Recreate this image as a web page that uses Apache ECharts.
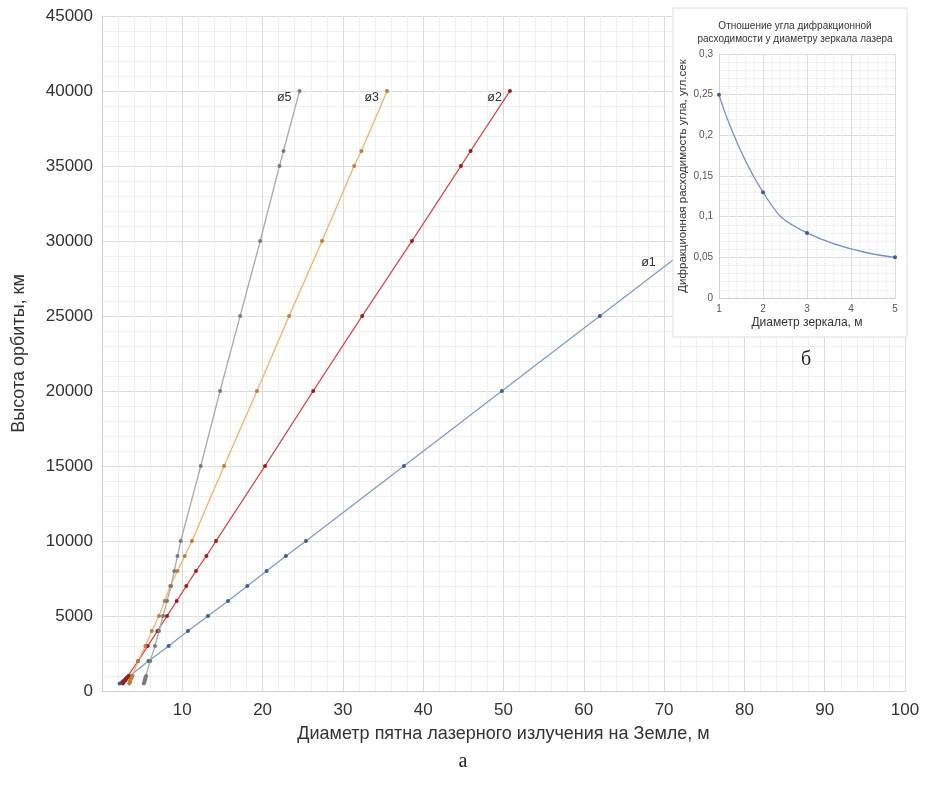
<!DOCTYPE html>
<html>
<head>
<meta charset="utf-8">
<script src="https://cdn.jsdelivr.net/npm/echarts@6/dist/echarts.min.js"></script>
<style>
  html, body { margin: 0; padding: 0; background: #fff; }
  #chart { width: 926px; height: 801px; }
</style>
</head>
<body>
<div id="chart"></div>
<script>
// высота орбиты, км
const heights = [500, 600, 700, 800, 900, 1000, 2000, 3000, 4000, 5000, 6000, 7000, 8000, 9000, 10000, 15000, 20000, 25000, 30000, 35000, 36000, 40000];
// диаметр пятна, м (для зеркал 1, 2, 3, 5 м)
const d1 = [2.2, 2.5, 2.7, 2.9, 3.2, 3.4, 5.8, 8.3, 10.7, 13.2, 15.7, 18.1, 20.5, 22.9, 25.4, 37.6, 49.8, 62.0, 74.2, 86.4, 88.8, 98.6];
const d2 = [2.6, 2.7, 2.9, 3.0, 3.1, 3.3, 4.5, 5.7, 6.9, 8.1, 9.3, 10.5, 11.7, 13.0, 14.2, 20.3, 26.3, 32.4, 38.6, 44.7, 45.9, 50.8];
const d3 = [3.4, 3.5, 3.5, 3.6, 3.7, 3.8, 4.5, 5.4, 6.2, 7.1, 7.8, 8.5, 9.4, 10.3, 11.2, 15.2, 19.3, 23.3, 27.4, 31.4, 32.3, 35.5];
const d5 = [5.2, 5.3, 5.3, 5.4, 5.4, 5.5, 6.0, 6.6, 7.1, 7.6, 8.1, 8.6, 9.0, 9.4, 9.8, 12.3, 14.7, 17.2, 19.7, 22.1, 22.6, 24.6];
const seriesNames = ["ø1", "ø2", "ø3", "ø5"];

// врезка (б)
const mirrorD = [1, 2, 3, 5];
const divergence = [0.25, 0.13, 0.08, 0.05];

const chart = echarts.init(document.getElementById("chart"));
const font = "Liberation Sans";

function makeData(d, labelIdx, labelOpt) {
  return d.map((x, i) => {
    const p = { value: [x, heights[i]] };
    if (i === labelIdx) p.label = Object.assign({ show: true }, labelOpt);
    return p;
  });
}

function lineSeries(name, d, lineColor, dotColor, labelIdx, labelOpt) {
  return {
    name: name,
    type: "line",
    xAxisIndex: 0,
    yAxisIndex: 0,
    symbol: "circle",
    symbolSize: 4,
    showAllSymbol: true,
    lineStyle: { color: lineColor, width: 1.3 },
    itemStyle: { color: dotColor },
    label: { color: "#333", fontSize: 12.5, fontFamily: font, formatter: name },
    data: makeData(d, labelIdx, labelOpt),
    z: 2,
  };
}

const last = heights.length - 1;

const option = {
  animation: false,
  backgroundColor: "#fff",
  textStyle: { fontFamily: font },
  title: {
    text: "Отношение угла дифракционной\nрасходимости у диаметру зеркала лазера",
    left: 790,
    top: 15,
    textAlign: "center",
    z: 60,
    textStyle: { fontSize: 10, fontWeight: "normal", color: "#333", lineHeight: 13, fontFamily: font },
  },
  grid: [
    { left: 102, right: 21, top: 16, bottom: 110 },
    { left: 719, right: 31, top: 54, bottom: 503, z: 55 },
  ],
  xAxis: [
    {
      type: "value",
      gridIndex: 0,
      min: 0,
      max: 100,
      interval: 10,
      name: "Диаметр пятна лазерного излучения на Земле, м",
      nameLocation: "middle",
      nameGap: 34,
      nameTextStyle: { fontSize: 18, color: "#333", fontFamily: font },
      axisLine: { lineStyle: { color: "#d0d0d0" } },
      axisTick: { show: false },
      axisLabel: {
        fontSize: 17,
        color: "#333",
        margin: 11,
        formatter: (v) => (v === 0 ? "" : String(v)),
      },
      splitLine: { lineStyle: { color: "#dcdcdc" } },
      minorTick: { show: false, splitNumber: 5 },
      minorSplitLine: { show: true, lineStyle: { color: "#f0f0f0" } },
    },
    {
      type: "value",
      gridIndex: 1,
      min: 1,
      max: 5,
      interval: 1,
      z: 60,
      name: "Диаметр зеркала, м",
      nameLocation: "middle",
      nameGap: 19,
      nameTextStyle: { fontSize: 12, color: "#333", fontFamily: font },
      axisLine: { lineStyle: { color: "#d0d0d0" } },
      axisTick: { show: false },
      axisLabel: { fontSize: 10, color: "#555", margin: 6 },
      splitLine: { lineStyle: { color: "#dcdcdc" } },
      minorTick: { show: false, splitNumber: 5 },
      minorSplitLine: { show: true, lineStyle: { color: "#f2f2f2" } },
    },
  ],
  yAxis: [
    {
      type: "value",
      gridIndex: 0,
      min: 0,
      max: 45000,
      interval: 5000,
      name: "Высота орбиты, км",
      nameLocation: "middle",
      nameGap: 74,
      nameTextStyle: { fontSize: 18, color: "#333", fontFamily: font },
      axisLine: { show: true, lineStyle: { color: "#d0d0d0" } },
      axisTick: { show: false },
      axisLabel: { fontSize: 17, color: "#333", margin: 9, formatter: (v) => String(v) },
      splitLine: { lineStyle: { color: "#dcdcdc" } },
      minorTick: { show: false, splitNumber: 5 },
      minorSplitLine: { show: true, lineStyle: { color: "#f0f0f0" } },
    },
    {
      type: "value",
      gridIndex: 1,
      min: 0,
      max: 0.3,
      interval: 0.05,
      z: 60,
      name: "Дифракционная расходимость угла, угл.сек",
      nameLocation: "middle",
      nameGap: 30,
      nameTextStyle: { fontSize: 11.5, color: "#333", fontFamily: font },
      axisLine: { show: true, lineStyle: { color: "#d0d0d0" } },
      axisTick: { show: false },
      axisLabel: {
        fontSize: 10,
        color: "#555",
        margin: 6,
        formatter: (v) => String(+v.toFixed(2)).replace(".", ","),
      },
      splitLine: { lineStyle: { color: "#dcdcdc" } },
      minorTick: { show: false, splitNumber: 5 },
      minorSplitLine: { show: true, lineStyle: { color: "#f2f2f2" } },
    },
  ],
  graphic: [
    {
      type: "rect",
      z: 50,
      shape: { x: 673, y: 8, width: 234, height: 329 },
      style: { fill: "#fff", stroke: "#dedede", lineWidth: 1 },
    },
    {
      type: "text",
      z: 60,
      x: 806,
      y: 360,
      style: { text: "б", fontSize: 20, fontFamily: "Liberation Serif", fill: "#222", textAlign: "center", textVerticalAlign: "middle" },
    },
    {
      type: "text",
      z: 60,
      x: 463,
      y: 762,
      style: { text: "а", fontSize: 20, fontFamily: "Liberation Serif", fill: "#222", textAlign: "center", textVerticalAlign: "middle" },
    },
  ],
  series: [
    lineSeries(seriesNames[0], d1, "#7e9dc9", "#3d5d94", 18, { position: "left", distance: 40, offset: [0, 22] }),
    lineSeries(seriesNames[1], d2, "#e0393a", "#a51818", last, { position: "left", distance: 6, offset: [0, 7] }),
    lineSeries(seriesNames[2], d3, "#f4b26c", "#b98043", last, { position: "left", distance: 6, offset: [0, 7] }),
    lineSeries(seriesNames[3], d5, "#ababab", "#7a7a7a", last, { position: "left", distance: 6, offset: [0, 7] }),
    {
      name: "inset",
      type: "line",
      xAxisIndex: 1,
      yAxisIndex: 1,
      smooth: true,
      symbol: "circle",
      symbolSize: 4,
      z: 61,
      lineStyle: { color: "#7393c4", width: 1.3 },
      itemStyle: { color: "#3d5d94" },
      data: mirrorD.map((x, i) => [x, divergence[i]]),
    },
  ],
};

chart.setOption(option);
</script>
</body>
</html>
